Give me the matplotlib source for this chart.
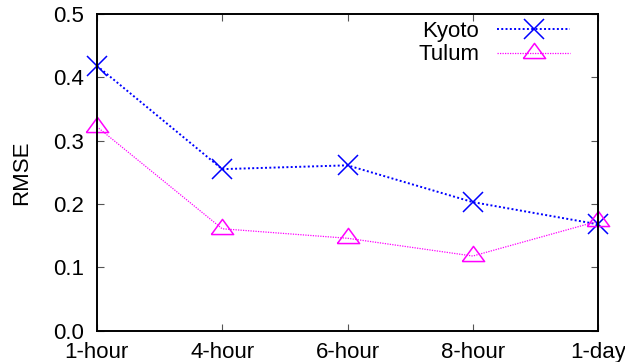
import numpy as np
import matplotlib.pyplot as plt
import matplotlib as mpl

mpl.rcParams['font.family'] = ['Liberation Sans', 'DejaVu Sans']

CATEGORIES = ['1-hour', '4-hour', '6-hour', '8-hour', '1-day']
KYOTO = [0.418, 0.255, 0.261, 0.203, 0.168]
TULUM = [0.322, 0.161, 0.146, 0.118, 0.173]

# gnuplot-style flat triangle (centre 2/3 down from apex)
TRI = [(-11, -5), (11, -5), (0, 10), (-11, -5)]

FS = 16

fig = plt.figure(figsize=(6.25, 3.62), dpi=100)
ax = fig.add_axes([0.155, 0.086, 0.802, 0.876])
x = np.arange(len(CATEGORIES))

ax.plot(x, KYOTO, color='#0000ff', linestyle=(0, (1, 1.2)), linewidth=1.4,
        marker='x', markersize=15, markeredgewidth=1.1, label='Kyoto', clip_on=False)
ax.plot(x, TULUM, color='#ff00ff', linestyle=(0, (1, 1)), linewidth=0.9,
        marker=TRI, markersize=16, markeredgewidth=1.1, markerfacecolor='none',
        label='Tulum', clip_on=False)

ax.set_xlim(0, len(CATEGORIES) - 1)
ax.set_ylim(0, 0.5)
ax.set_xticks(x)
ax.set_xticklabels(CATEGORIES)
ax.set_yticks(np.arange(0, 0.51, 0.1))
ax.set_yticklabels([f'{v:.1f}' for v in np.arange(0, 0.51, 0.1)])
ax.tick_params(direction='in', top=True, right=True, length=5, width=0.8,
               labelsize=FS, color='#555555')
ax.tick_params(axis='y', pad=9)
ax.tick_params(axis='x', pad=8)
for s in ax.spines.values():
    s.set_linewidth(1.4)
    s.set_color('black')
ax.set_ylabel('RMSE', fontsize=FS, labelpad=15)

ax.legend(loc='upper right', markerfirst=False, frameon=False, fontsize=FS,
          handlelength=3.3, handletextpad=0.8, labelspacing=0.1,
          borderaxespad=0.0, bbox_to_anchor=(0.962, 1.005))

fig.savefig('out.png', dpi=100)
